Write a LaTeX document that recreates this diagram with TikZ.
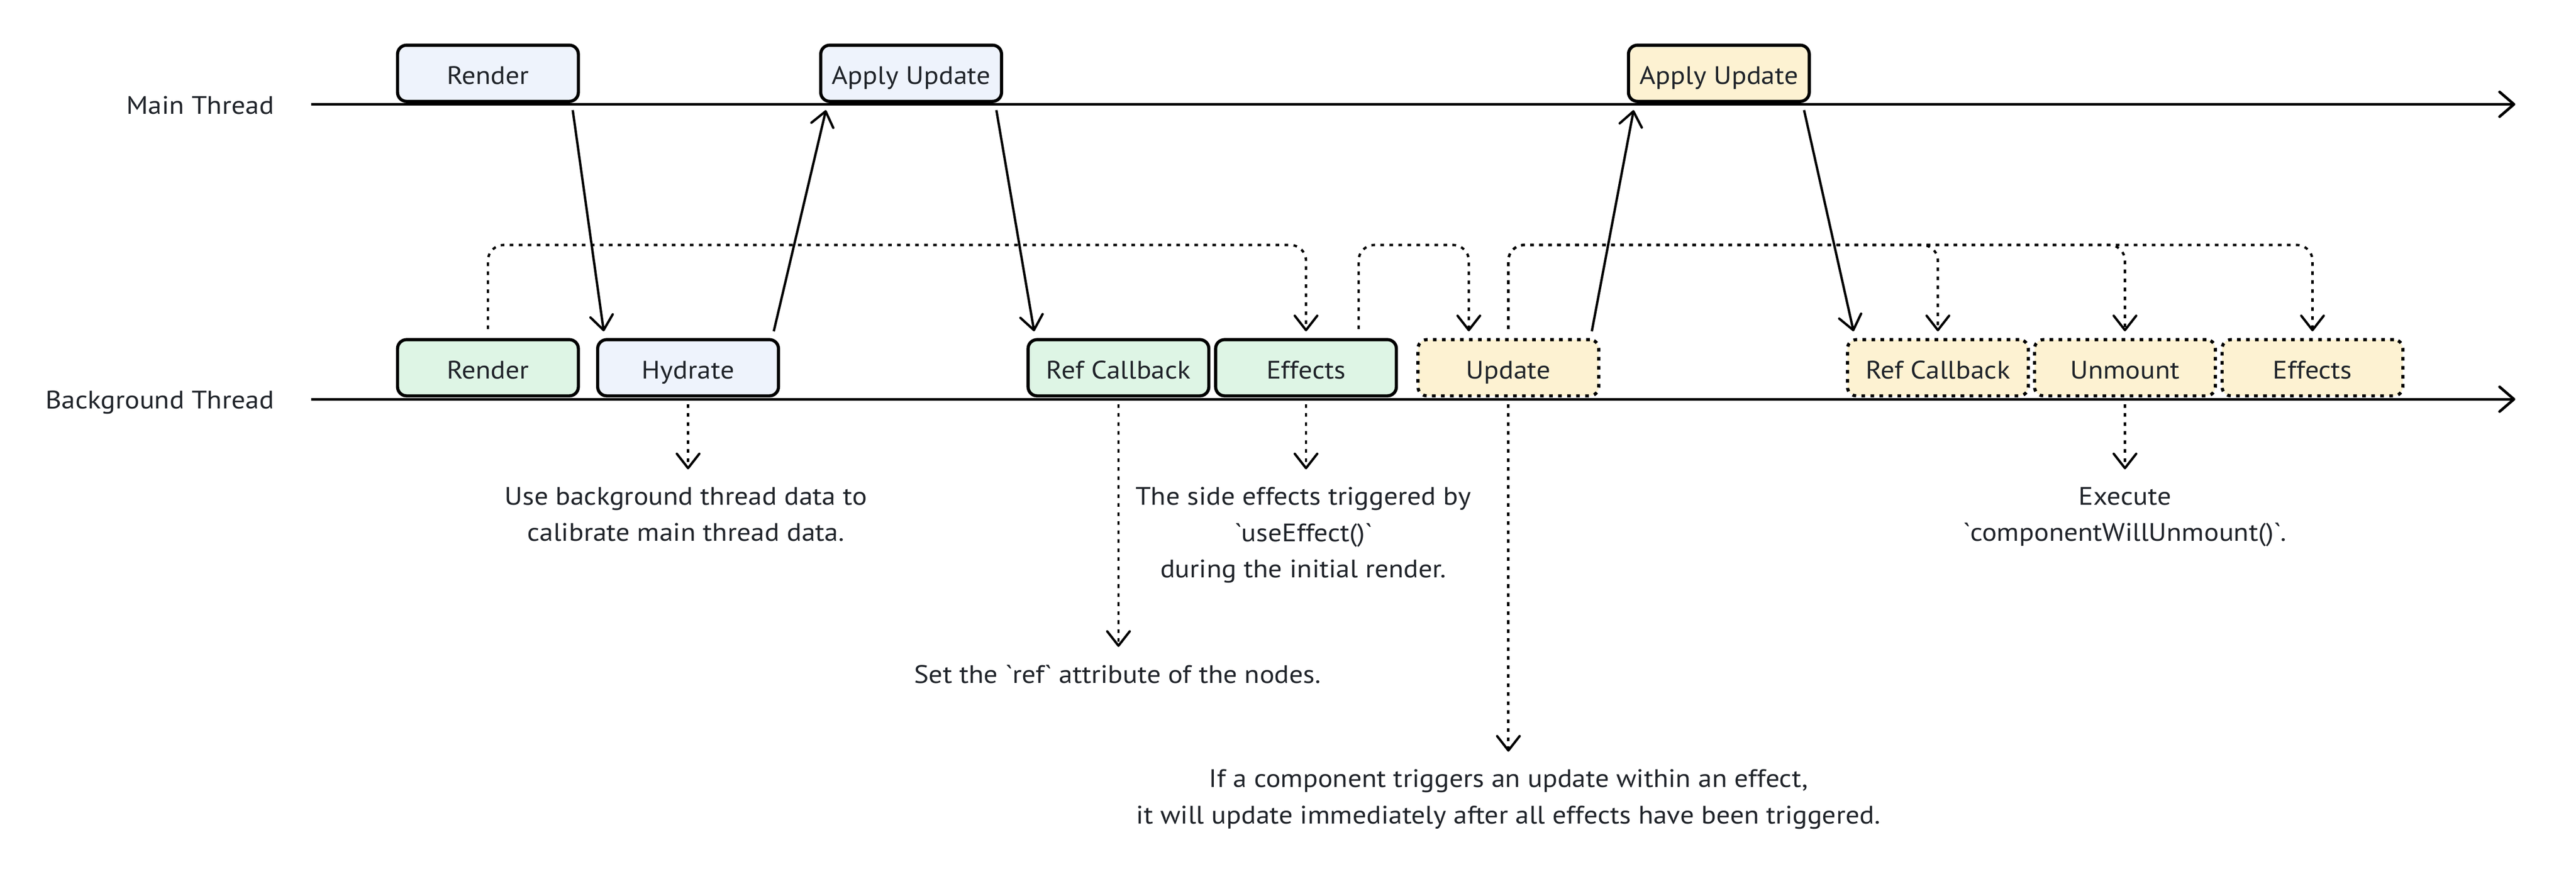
\documentclass[tikz,border=0pt]{standalone}
\usepackage{fontspec}
\setmainfont{PT Sans}[FakeStretch=1.09]
\usetikzlibrary{arrows.meta}

\definecolor{bluefill}{HTML}{EEF3FC}
\definecolor{greenfill}{HTML}{DEF5E5}
\definecolor{yellowfill}{HTML}{FDF2D2}
\definecolor{txtgray}{HTML}{1F2329}
\newcommand{\bq}{\textasciigrave}

\tikzset{
	every node/.style={font=\fontsize{16}{23}\selectfont, text=txtgray},
	phase/.style={draw, line width=2pt, rounded corners=0.2cm, minimum width=4.02cm, minimum height=1.25cm, inner sep=0pt, text height=15.5pt, text depth=1.5pt},
	pending/.style={phase, dash pattern=on 2.3pt off 3.4pt},
	thread/.style={line width=1.7pt, -{Straight Barb[length=3.2mm, width=5.5mm, round]}},
	hop/.style={line width=1.5pt, -{Straight Barb[length=3.2mm, width=5mm, round]}},
	trigger/.style={line width=1.5pt, dash pattern=on 2.3pt off 3.4pt, rounded corners=0.35cm, -{Straight Barb[length=3.2mm, width=5mm, round]}},
	note/.style={align=center, inner sep=0pt, anchor=north}
}

\begin{document}
\begin{tikzpicture}
	\useasboundingbox (0,0) rectangle (57.28,-19.44);
	%threads
	\node (mainlbl) at (6.10, -2.54) [anchor=base east, inner sep=0pt]{Main Thread};
	\node (bglbl) at (6.10, -9.09) [anchor=base east, inner sep=0pt]{Background Thread};
	\draw[thread] (6.92, -2.32) -- (55.93, -2.32);
	\draw[thread] (6.92, -8.88) -- (55.93, -8.88);
	
	%main thread
	\node (mrender) at (10.85, -1.63) [phase, fill=bluefill]{Render};
	\node (mapply) at (20.26, -1.63) [phase, fill=bluefill]{Apply Update};
	\node (mapply2) at (38.22, -1.63) [phase, fill=yellowfill]{Apply Update};
	
	%background thread
	\node (brender) at (10.85, -8.18) [phase, fill=greenfill]{Render};
	\node (hydrate) at (15.30, -8.18) [phase, fill=bluefill]{Hydrate};
	\node (refcb) at (24.87, -8.18) [phase, fill=greenfill]{Ref Callback};
	\node (effects) at (29.04, -8.18) [phase, fill=greenfill]{Effects};
	\node (update) at (33.54, -8.18) [pending, fill=yellowfill]{Update};
	\node (refcb2) at (43.09, -8.18) [pending, fill=yellowfill]{Ref Callback};
	\node (unmount) at (47.25, -8.18) [pending, fill=yellowfill]{Unmount};
	\node (effects2) at (51.42, -8.18) [pending, fill=yellowfill]{Effects};
	
	%hops between the threads
	\draw[hop] ([shift={(-1.6mm,-1.6mm)}]mrender.south east) -- ([shift={(1.7mm,1.5mm)}]hydrate.north west);
	\draw[hop] ([shift={(-1.4mm,1.5mm)}]hydrate.north east) -- ([shift={(1.5mm,-1.6mm)}]mapply.south west);
	\draw[hop] ([shift={(-1.5mm,-1.6mm)}]mapply.south east) -- ([shift={(1.7mm,1.5mm)}]refcb.north west);
	\draw[hop] ([shift={(-1.9mm,1.5mm)}]update.north east) -- ([shift={(1.5mm,-1.6mm)}]mapply2.south west);
	\draw[hop] ([shift={(-1.5mm,-1.6mm)}]mapply2.south east) -- ([shift={(1.7mm,1.5mm)}]refcb2.north west);
	
	%triggers above the background thread
	\coordinate (lane) at (0, -5.45);
	\draw[trigger] ([yshift=2mm]brender.north) |- (lane -| effects) -- ([yshift=1.5mm]effects.north);
	\draw[trigger] ([xshift=11.7mm, yshift=2mm]effects.north) |- ([xshift=-8.8mm]lane -| update) -- ([xshift=-8.8mm, yshift=1.5mm]update.north);
	\foreach \t in {refcb2, unmount, effects2}{
		\draw[trigger] ([yshift=2mm]update.north) |- (lane -| \t) -- ([yshift=1.5mm]\t.north);
	}
	
	%notes
	\node (hydnote) at (15.25, -10.83) [note]{Use background thread data to\\calibrate main thread data.};
	\node (effnote) at (28.98, -10.83) [note]{The side effects triggered by\\\bq{}useEffect()\bq\\during the initial render.};
	\node (refnote) at (24.85, -14.78) [note]{Set the \bq{}ref\bq{} attribute of the nodes.};
	\node (updnote) at (33.54, -17.11) [note]{If a component triggers an update within an effect,\\it will update immediately after all effects have been triggered.};
	\node (unmnote) at (47.25, -10.83) [note]{Execute\\\bq{}componentWillUnmount()\bq{}.};
	\draw[trigger] ([yshift=-1.5mm]hydrate.south) -- ([yshift=3.9mm]hydrate.south |- hydnote.north);
	\draw[trigger] ([yshift=-1.5mm]effects.south) -- ([yshift=3.9mm]effects.south |- effnote.north);
	\draw[trigger] ([yshift=-1.5mm]refcb.south) -- ([yshift=3.9mm]refcb.south |- refnote.north);
	\draw[trigger] ([yshift=-1.5mm]update.south) -- ([yshift=3.9mm]update.south |- updnote.north);
	\draw[trigger] ([yshift=-1.5mm]unmount.south) -- ([yshift=3.9mm]unmount.south |- unmnote.north);
\end{tikzpicture}
\end{document}
